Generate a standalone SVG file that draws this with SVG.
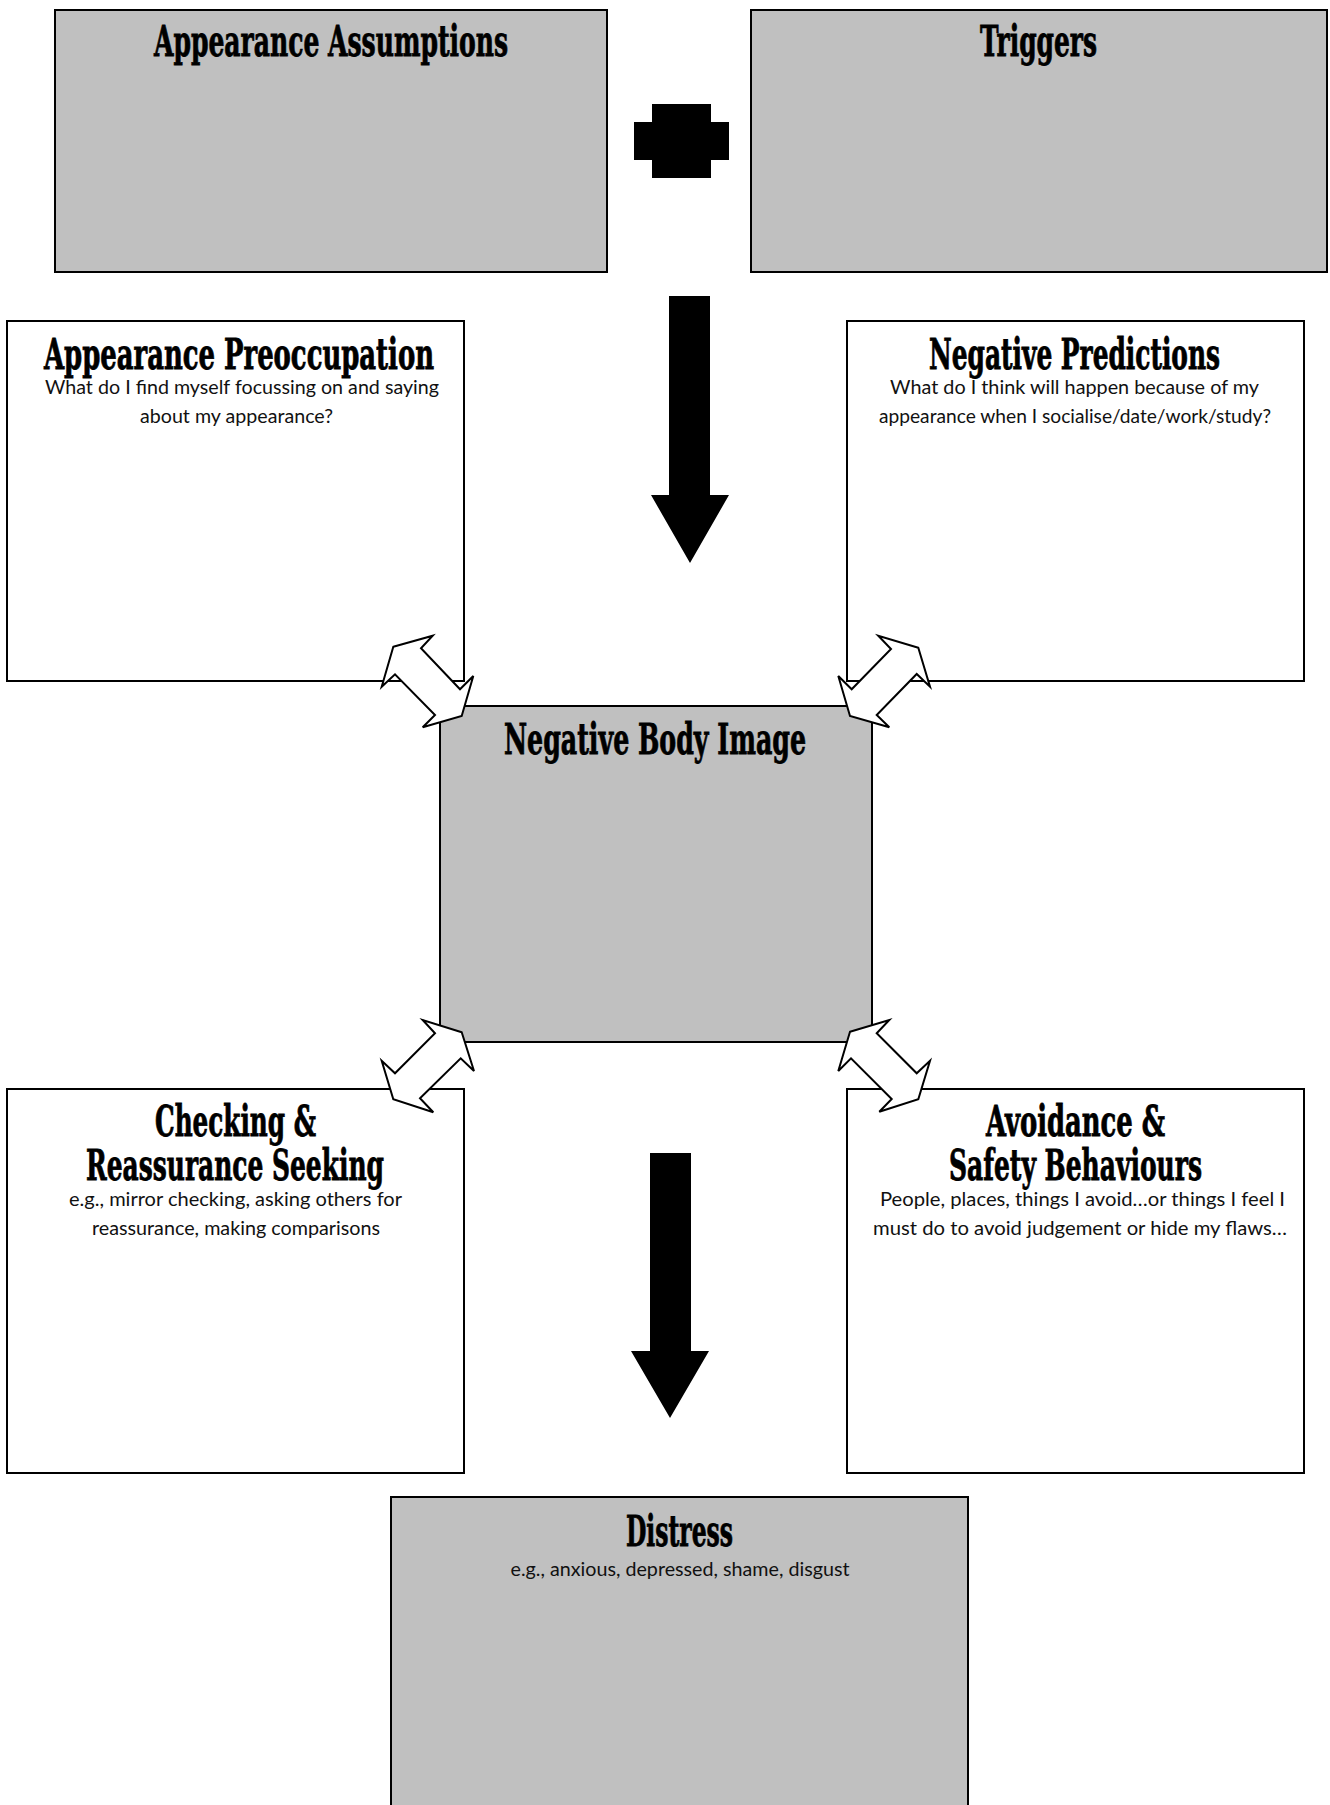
<svg xmlns="http://www.w3.org/2000/svg" width="1330" height="1805" viewBox="0 0 1330 1805">
<style>
.box{stroke:#000;stroke-width:2}
.gray{fill:#c0c0c0}
.white{fill:#fff}
.h{font-family:'DejaVu Serif Condensed','DejaVu Serif','Liberation Serif',serif;font-weight:bold;font-stretch:condensed;font-size:42px;fill:#000;text-anchor:middle;stroke:#000;stroke-width:0.8}
.b{font-family:Lato,'Open Sans','Liberation Sans',sans-serif;font-size:18.5px;fill:#111;text-anchor:middle}
.dbl{fill:#fff;stroke:#000;stroke-width:2;stroke-linejoin:miter}
.solid{fill:#000}
</style>
<rect width="1330" height="1805" fill="#fff"/>
<g id="appearance-assumptions">
<rect class="box gray" x="55" y="10" width="552" height="262"/>
<text class="h" x="331" y="56" textLength="354" lengthAdjust="spacingAndGlyphs">Appearance Assumptions</text>
</g>
<g id="triggers">
<rect class="box gray" x="751" y="10" width="576" height="262"/>
<text class="h" x="1038.5" y="56" textLength="117" lengthAdjust="spacingAndGlyphs">Triggers</text>
</g>
<g id="appearance-preoccupation">
<rect class="box white" x="7" y="321" width="457" height="360"/>
<text class="h" x="239" y="369" textLength="390" lengthAdjust="spacingAndGlyphs">Appearance Preoccupation</text>
<text class="b" x="242" y="394" textLength="394" lengthAdjust="spacingAndGlyphs">What do I find myself focussing on and saying</text>
<text class="b" x="236.5" y="423" textLength="193" lengthAdjust="spacingAndGlyphs">about my appearance?</text>
</g>
<g id="negative-predictions">
<rect class="box white" x="847" y="321" width="457" height="360"/>
<text class="h" x="1074.5" y="369" textLength="291" lengthAdjust="spacingAndGlyphs">Negative Predictions</text>
<text class="b" x="1074.5" y="394" textLength="369" lengthAdjust="spacingAndGlyphs">What do I think will happen because of my</text>
<text class="b" x="1075" y="423" textLength="392" lengthAdjust="spacingAndGlyphs">appearance when I socialise/date/work/study?</text>
</g>
<g id="negative-body-image">
<rect class="box gray" x="440" y="706" width="432" height="336"/>
<text class="h" x="655" y="754" textLength="302" lengthAdjust="spacingAndGlyphs">Negative Body Image</text>
</g>
<g id="checking-reassurance">
<rect class="box white" x="7" y="1089" width="457" height="384"/>
<text class="h" x="235.5" y="1136" textLength="161" lengthAdjust="spacingAndGlyphs">Checking &amp;</text>
<text class="h" x="235" y="1180" textLength="298" lengthAdjust="spacingAndGlyphs">Reassurance Seeking</text>
<text class="b" x="235.5" y="1206" textLength="333" lengthAdjust="spacingAndGlyphs">e.g., mirror checking, asking others for</text>
<text class="b" x="236" y="1235" textLength="288" lengthAdjust="spacingAndGlyphs">reassurance, making comparisons</text>
</g>
<g id="avoidance-safety">
<rect class="box white" x="847" y="1089" width="457" height="384"/>
<text class="h" x="1075.5" y="1136" textLength="179" lengthAdjust="spacingAndGlyphs">Avoidance &amp;</text>
<text class="h" x="1075.5" y="1180" textLength="253" lengthAdjust="spacingAndGlyphs">Safety Behaviours</text>
<text class="b" x="1082.5" y="1206" textLength="405" lengthAdjust="spacingAndGlyphs">People, places, things I avoid…or things I feel I</text>
<text class="b" x="1080" y="1235" textLength="414" lengthAdjust="spacingAndGlyphs">must do to avoid judgement or hide my flaws…</text>
</g>
<g id="distress">
<rect class="box gray" x="391" y="1497" width="577" height="330"/>
<text class="h" x="679.5" y="1546" textLength="107" lengthAdjust="spacingAndGlyphs">Distress</text>
<text class="b" x="680" y="1576" textLength="339" lengthAdjust="spacingAndGlyphs">e.g., anxious, depressed, shame, disgust</text>
</g>
<g id="connectors">
<path id="plus" class="solid" d="M652,104 H711 V122 H729 V160 H711 V178 H652 V160 H634 V122 H652 Z"/>
<path id="arrow-down-1" class="solid" d="M669,296 H710 V495 H729 L690,563 L651,495 H669 Z"/>
<path id="arrow-down-2" class="solid" d="M650,1153 H691 V1351 H709 L670,1418 L631,1351 H650 Z"/>
<polygon id="dbl-top-left" class="dbl" points="393.3,646.7 432.7,635.7 421,648.3 460,689.3 473.3,676 461.7,716 422.7,727.3 435,715 395,674.3 381.7,686.7"/>
<polygon id="dbl-top-right" class="dbl" points="918.3,647.7 878.3,635.7 891,649 851.7,689.3 838.3,676 850,716 889.3,727.3 876.7,715 916.7,674 930,686.7"/>
<polygon id="dbl-bottom-left" class="dbl" points="461.7,1032.3 422.7,1020 435,1033.3 395,1073.3 381.7,1060.7 393.3,1099.3 433.3,1112.3 420,1098.3 460.7,1058.3 474,1071"/>
<polygon id="dbl-bottom-right" class="dbl" points="850,1031.7 889.3,1020 876.7,1033.3 916.7,1073.3 930,1060.7 918.3,1099.3 879.3,1111.7 891.7,1099 851,1058.3 838.3,1071"/>
</g>
</svg>
